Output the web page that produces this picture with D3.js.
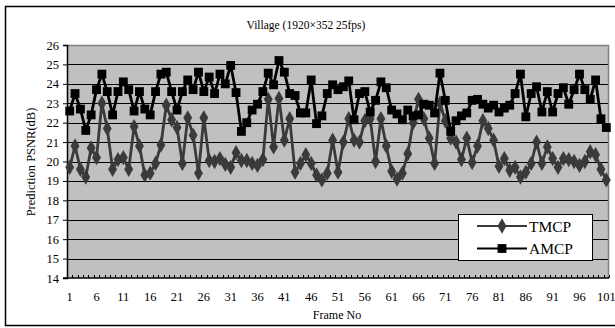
<!DOCTYPE html>
<html>
<head>
<meta charset="utf-8">
<script src="https://cdn.jsdelivr.net/npm/d3@7"></script>
<style>
  body { margin: 0; background: #fff; }
  text { font-family: "Liberation Serif", "Times New Roman", serif; fill: #000; }
</style>
</head>
<body>
<svg id="chart" width="615" height="328"></svg>
<script>
// frame numbers 1..101
const frames = d3.range(1, 102);

// prediction PSNR (dB) per frame
const tmcp = [
  19.7, 20.8, 19.6, 19.2, 20.7, 20.2, 23.0, 21.7, 19.6, 20.1,
  20.2, 19.6, 21.8, 20.8, 19.3, 19.4, 19.9, 20.85, 22.9, 22.15,
  21.75, 19.9, 22.25, 21.35, 19.4, 22.25, 20.05, 20.0, 20.15, 19.85,
  19.7, 20.45, 20.05, 20.05, 19.9, 19.8, 20.1, 23.2, 20.75, 23.25,
  21.1, 22.2, 19.45, 19.9, 20.35, 19.9, 19.3, 19.05, 19.4, 21.1,
  19.45, 21.0, 22.2, 21.1, 21.0, 22.1, 22.2, 20.0, 22.2, 20.8,
  19.5, 19.1, 19.4, 20.4, 22.0, 23.2, 22.2, 21.2, 19.9, 23.0,
  22.1, 21.2, 21.0, 20.1, 21.2, 19.95, 20.8, 22.1, 21.7, 21.1,
  19.75, 20.15, 19.55, 19.7, 19.2, 19.45, 19.9, 21.0, 19.9, 20.75,
  20.15, 19.7, 20.15, 20.1, 20.0, 19.8, 20.0, 20.5, 20.35, 19.6,
  19.05
];
const amcp = [
  22.6, 23.5, 22.7, 21.6, 22.4, 23.7, 24.5, 23.6, 22.4, 23.6,
  24.1, 23.7, 22.6, 23.6, 22.7, 22.4, 23.6, 24.5, 24.6, 23.6,
  22.65, 23.6, 24.2, 23.7, 24.6, 23.6, 24.35, 23.5, 24.5, 24.0,
  24.95, 23.55, 21.55, 22.0, 22.65, 22.95, 23.6, 24.55, 23.95, 25.2,
  24.6, 23.5, 23.4, 22.5, 22.5, 24.2, 21.95, 22.35, 23.5, 23.95,
  23.7, 23.85, 24.15, 22.15, 23.5, 23.6, 22.55, 23.15, 24.1, 23.8,
  22.65, 22.45, 22.15, 22.65, 22.35, 22.4, 22.95, 22.9, 22.5, 24.55,
  23.15, 21.55, 22.1, 22.35, 22.5, 23.15, 23.2, 22.95, 22.75, 22.9,
  22.55, 22.75, 22.9, 23.5, 24.5, 22.3, 23.5, 23.85, 22.55, 23.6,
  22.55, 23.5, 23.8, 22.95, 23.7, 24.5, 23.7, 23.2, 24.2, 22.2,
  21.75
];

const yTicks = d3.range(14, 27);
const xTickLabels = frames.filter(f => (f - 1) % 5 === 0);

const series = [
  { name: "TMCP", values: tmcp, color: "#3a3a3a", symbol: d3.symbolDiamond, size: 68 },
  { name: "AMCP", values: amcp, color: "#000000", symbol: d3.symbolSquare, size: 78 }
];

const svg = d3.select("#chart");
const plot = { left: 67, right: 609, top: 45, bottom: 278 };

// outer frame
svg.append("rect")
  .attr("x", 5.5).attr("y", 6.5).attr("width", 612).attr("height", 319)
  .attr("fill", "#fff").attr("stroke", "#000").attr("stroke-width", 1.5);

svg.append("text")
  .attr("x", 306).attr("y", 29)
  .attr("text-anchor", "middle").attr("font-size", 11.5)
  .text("Village (1920\u00d7352 25fps)");

const x = d3.scaleBand().domain(frames).range([plot.left, plot.right]).paddingInner(0);
const y = d3.scaleLinear().domain([14, 26]).range([plot.bottom, plot.top]);
const cx = f => x(f) + x.bandwidth() / 2;

// plot background
svg.append("rect")
  .attr("x", plot.left).attr("y", plot.top)
  .attr("width", plot.right - plot.left).attr("height", plot.bottom - plot.top)
  .attr("fill", "#c0c0c0");

// horizontal gridlines
svg.append("g").selectAll("line")
  .data(yTicks.filter(t => t > 14 && t < 26))
  .join("line")
    .attr("x1", plot.left).attr("x2", plot.right)
    .attr("y1", d => Math.round(y(d)) + 0.5).attr("y2", d => Math.round(y(d)) + 0.5)
    .attr("stroke", "#000").attr("stroke-width", 1);

// top and right border of plot area
svg.append("path")
  .attr("d", `M${plot.left},${plot.top + 0.5}H${plot.right - 0.5}V${plot.bottom}`)
  .attr("fill", "none").attr("stroke", "#808080").attr("stroke-width", 1.5);

// y axis
const yAxis = d3.axisLeft(y).tickValues(yTicks).tickSize(4).tickPadding(4).tickFormat(d3.format("d"));
svg.append("g")
  .attr("transform", `translate(${plot.left},0)`)
  .call(yAxis)
  .call(g => g.select(".domain").attr("stroke-width", 1.5))
  .call(g => g.selectAll("text").attr("font-size", 12.5).attr("font-family", "Liberation Serif"));

// x axis: minor ticks at category boundaries pointing inward
const bounds = frames.map(f => x(f)).concat([plot.right]);
svg.append("g").selectAll("line")
  .data(bounds)
  .join("line")
    .attr("x1", d => Math.round(d) + 0.5).attr("x2", d => Math.round(d) + 0.5)
    .attr("y1", plot.bottom).attr("y2", plot.bottom - 3)
    .attr("stroke", "#000");
svg.append("line")
  .attr("x1", plot.left - 4).attr("x2", plot.right)
  .attr("y1", plot.bottom).attr("y2", plot.bottom)
  .attr("stroke", "#000").attr("stroke-width", 1.5);

svg.append("g").selectAll("text")
  .data(xTickLabels)
  .join("text")
    .attr("x", d => cx(d)).attr("y", 301)
    .attr("text-anchor", "middle").attr("font-size", 12.5)
    .text(d => d);

svg.append("text")
  .attr("x", 337).attr("y", 319)
  .attr("text-anchor", "middle").attr("font-size", 12)
  .text("Frame No");

svg.append("text")
  .attr("transform", "translate(35,162) rotate(-90)")
  .attr("text-anchor", "middle").attr("font-size", 12.5)
  .text("Prediction PSNR(dB)");

// series lines and markers
const line = d3.line().x((d, i) => cx(frames[i])).y(d => y(d));
series.forEach(s => {
  const g = svg.append("g");
  g.append("path")
    .attr("d", line(s.values))
    .attr("fill", "none").attr("stroke", s.color).attr("stroke-width", 2.8)
    .attr("stroke-linejoin", "round");
  g.selectAll("path.mark")
    .data(s.values)
    .join("path")
      .attr("class", "mark")
      .attr("transform", (d, i) => `translate(${cx(frames[i])},${y(d)})`)
      .attr("d", d3.symbol(s.symbol, s.size))
      .attr("fill", s.color);
});

// legend
const legend = svg.append("g");
legend.append("rect")
  .attr("x", 458.5).attr("y", 214.5).attr("width", 134).attr("height", 46)
  .attr("fill", "#fff").attr("stroke", "#000").attr("stroke-width", 1);
series.forEach((s, i) => {
  const ly = 226 + i * 22.5;
  legend.append("line")
    .attr("x1", 477).attr("x2", 527).attr("y1", ly).attr("y2", ly)
    .attr("stroke", s.color).attr("stroke-width", 2);
  legend.append("path")
    .attr("transform", `translate(502,${ly})`)
    .attr("d", d3.symbol(s.symbol, s.size))
    .attr("fill", s.color);
  legend.append("text")
    .attr("x", 529).attr("y", ly + 5.5)
    .attr("font-size", 15.5)
    .text(s.name);
});
</script>
</body>
</html>
